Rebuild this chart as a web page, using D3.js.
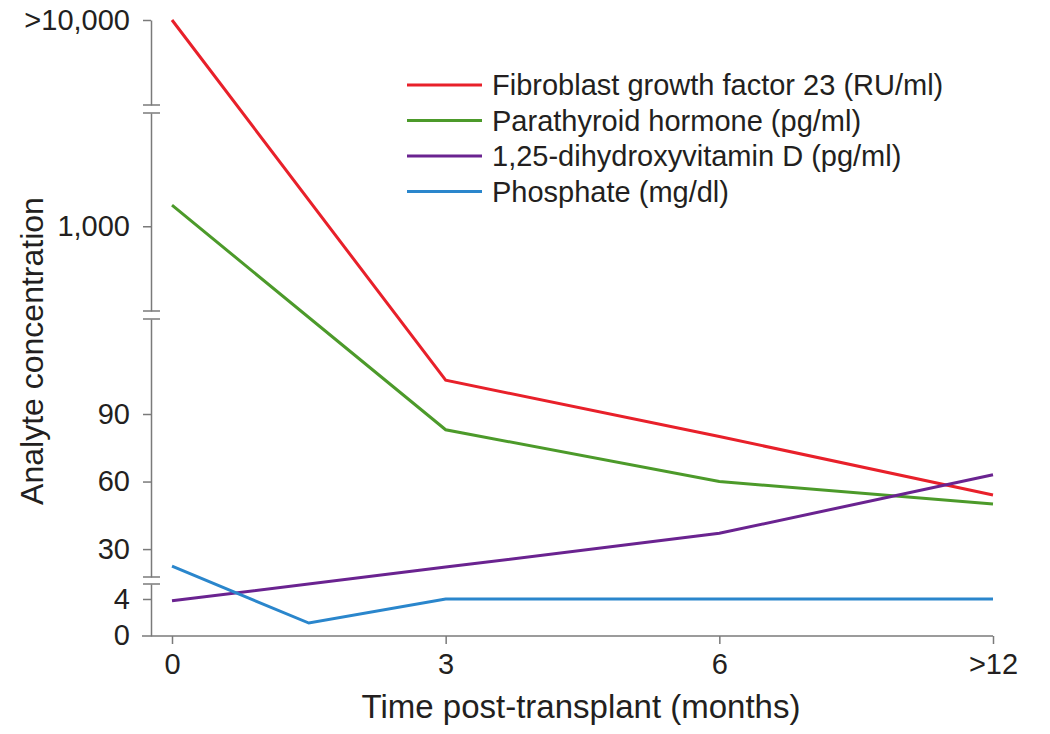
<!DOCTYPE html>
<html>
<head>
<meta charset="utf-8">
<script src="https://cdn.jsdelivr.net/npm/d3@7"></script>
<style>
  html, body { margin: 0; padding: 0; background: #fff; }
  svg { display: block; font-family: "Liberation Sans", Arial, Helvetica, sans-serif; }
</style>
</head>
<body>
<svg id="chart" width="1050" height="734"></svg>
<script>
// ---------- data ----------
const xTickPositions = [0, 1, 2, 3];
const xTickLabels = ["0", "3", "6", ">12"];

const yTickValues = [10000, 1000, 90, 60, 30, 4, 0];
const yTickLabels = [">10,000", "1,000", "90", "60", "30", "4", "0"];

const seriesNames = [
  "Fibroblast growth factor 23 (RU/ml)",
  "Parathyroid hormone (pg/ml)",
  "1,25-dihydroxyvitamin D (pg/ml)",
  "Phosphate (mg/dl)"
];
const seriesColors = ["#e8202a", "#4c9a2a", "#6a2390", "#2a86cc"];

const fgf23X = [0, 1, 2, 3];
const fgf23Y = [10000, 105, 80, 54];
const pthX = [0, 1, 2, 3];
const pthY = [1350, 83, 60, 50];
const vitDX = [0, 1, 2, 3];
const vitDY = [3.8, 22, 37, 63];
const phosX = [0, 0.5, 1, 2, 3];
const phosY = [22.4, 1.4, 4, 4, 4];

// broken axis segments (value domains)
const segDomains = [
  [0, 5.62],        // bottom
  [17.6, 132.2],    // middle linear
  [300, 5000],      // log segment
  [5500, 10000]     // top
];

// ---------- layout ----------
const svg = d3.select("#chart");
const axisX = 151;
const segRanges = [
  [636, 584],
  [577, 319],
  [311, 113],
  [105, 20]
];
const segScales = [
  d3.scaleLinear().domain(segDomains[0]).range(segRanges[0]),
  d3.scaleLinear().domain(segDomains[1]).range(segRanges[1]),
  d3.scaleLog().domain(segDomains[2]).range(segRanges[2]),
  d3.scaleLinear().domain(segDomains[3]).range(segRanges[3])
];
function y(v) {
  for (let i = 0; i < segScales.length; i++) {
    const d = segDomains[i];
    if (v >= d[0] && v <= d[1]) return segScales[i](v);
  }
  let best = 0, bd = Infinity;
  segDomains.forEach((d, i) => {
    const dist = Math.min(Math.abs(v - d[0]), Math.abs(v - d[1]));
    if (dist < bd) { bd = dist; best = i; }
  });
  return segScales[best](Math.max(segDomains[best][0], Math.min(segDomains[best][1], v)));
}

const x = d3.scaleLinear().domain([0, 3]).range([172, 993]);

const axisColor = "#7a7a7a";
const textColor = "#231f20";
const tickFont = 29;

// y axis segments
segScales.forEach((s, i) => {
  const d = segDomains[i];
  const vals = yTickValues.filter(v => v >= d[0] && v <= d[1] && !(i === 0 && v === 0));
  const g = svg.append("g")
    .attr("transform", `translate(${axisX},0)`)
    .call(d3.axisLeft(s)
      .tickValues(vals)
      .tickSize(8)
      .tickSizeOuter(0)
      .tickFormat(v => yTickLabels[yTickValues.indexOf(v)]));
  g.select(".domain").attr("stroke", axisColor).attr("stroke-width", 1.5);
  g.selectAll(".tick line").attr("stroke", axisColor).attr("stroke-width", 1.5);
  g.selectAll(".tick text")
    .attr("x", -21)
    .attr("fill", textColor)
    .attr("font-size", tickFont)
    .style("font-family", "'Liberation Sans', Arial, sans-serif");
});

// "0" label on y axis (at x-axis level)
svg.append("text")
  .attr("x", axisX - 21)
  .attr("y", y(0))
  .attr("dy", "0.32em")
  .attr("text-anchor", "end")
  .attr("font-size", tickFont)
  .attr("fill", textColor)
  .text(yTickLabels[yTickValues.indexOf(0)]);

// break marks
const breakYs = [];
segRanges.forEach((r, i) => {
  if (i > 0) breakYs.push(r[0]);
  if (i < segRanges.length - 1) breakYs.push(r[1]);
});
svg.selectAll("line.brk").data(breakYs).enter().append("line")
  .attr("class", "brk")
  .attr("x1", axisX - 8).attr("x2", axisX + 9)
  .attr("y1", d => d).attr("y2", d => d)
  .attr("stroke", axisColor).attr("stroke-width", 1.5);

// x axis
const gx = svg.append("g")
  .attr("transform", `translate(0,${y(0)})`)
  .call(d3.axisBottom(x)
    .tickValues(xTickPositions)
    .tickSize(8)
    .tickSizeOuter(0)
    .tickFormat((d, i) => xTickLabels[i]));
gx.select(".domain").remove();
gx.selectAll(".tick line").attr("stroke", axisColor).attr("stroke-width", 1.5);
gx.selectAll(".tick text")
  .attr("y", 17)
  .attr("fill", textColor)
  .attr("font-size", tickFont)
  .style("font-family", "'Liberation Sans', Arial, sans-serif");
svg.append("line")
  .attr("x1", axisX - 9).attr("x2", x(3))
  .attr("y1", y(0)).attr("y2", y(0))
  .attr("stroke", axisColor).attr("stroke-width", 1.5);

// lines
const seriesXs = [fgf23X, pthX, vitDX, phosX];
const seriesYs = [fgf23Y, pthY, vitDY, phosY];
const line = d3.line().x(d => x(d[0])).y(d => y(d[1]));
seriesXs.forEach((xs, i) => {
  const pts = xs.map((xv, j) => [xv, seriesYs[i][j]]);
  svg.append("path")
    .attr("d", line(pts))
    .attr("fill", "none")
    .attr("stroke", seriesColors[i])
    .attr("stroke-width", 3)
    .attr("stroke-linejoin", "miter");
});

// legend
const legend = svg.append("g").attr("transform", "translate(407,85)");
seriesNames.forEach((name, i) => {
  const gy = i * 35.5;
  legend.append("line")
    .attr("x1", 0).attr("x2", 75)
    .attr("y1", gy).attr("y2", gy)
    .attr("stroke", seriesColors[i]).attr("stroke-width", 3);
  legend.append("text")
    .attr("x", 85).attr("y", gy)
    .attr("dy", "0.35em")
    .attr("font-size", tickFont)
    .attr("fill", textColor)
    .text(name);
});

// axis titles
svg.append("text")
  .attr("x", 581).attr("y", 718)
  .attr("text-anchor", "middle")
  .attr("font-size", 33)
  .attr("fill", textColor)
  .text("Time post-transplant (months)");
svg.append("text")
  .attr("transform", "translate(43,351) rotate(-90)")
  .attr("text-anchor", "middle")
  .attr("font-size", 32)
  .attr("fill", textColor)
  .text("Analyte concentration");
</script>
</body>
</html>
